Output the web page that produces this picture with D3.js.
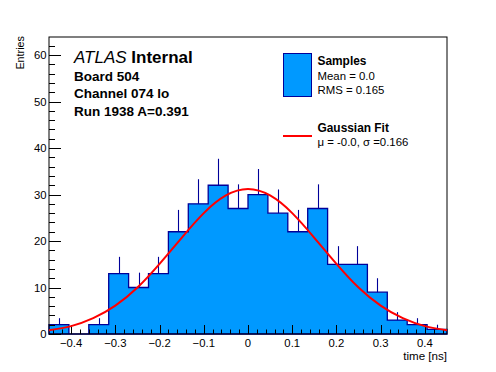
<!DOCTYPE html>
<html>
<head>
<meta charset="utf-8">
<script src="https://cdn.jsdelivr.net/npm/d3@7"></script>
<style>
  body { margin: 0; background: #fff; }
  text { font-family: "Liberation Sans", Arial, sans-serif; }
</style>
</head>
<body>
<svg id="chart" width="496" height="372"></svg>
<script>
// histogram: 20 bins over [-0.45, 0.45]
var binEdges = [-0.45, -0.405, -0.36, -0.315, -0.27, -0.225, -0.18, -0.135, -0.09, -0.045, 0,
                0.045, 0.09, 0.135, 0.18, 0.225, 0.27, 0.315, 0.36, 0.405, 0.45];
var counts = [2, 0, 2, 13, 10, 13, 22, 28, 32, 27, 30, 26, 22, 27, 15, 15, 9, 3, 2, 1];
var errors = [1.4, 0, 1.4, 3.6, 3.2, 3.6, 4.7, 5.3, 5.7, 5.2, 5.5, 5.1, 4.7, 5.2, 3.9, 3.9, 3.0, 1.7, 1.4, 1.0];

// gaussian fit curve
var fitX = [-0.45, -0.4, -0.35, -0.3, -0.25, -0.2, -0.15, -0.1, -0.05, 0,
            0.05, 0.1, 0.15, 0.2, 0.25, 0.3, 0.35, 0.4, 0.45];
var fitY = [0.8, 1.7, 3.4, 6.1, 10.0, 15.1, 20.7, 26.0, 29.8, 31.2,
            29.8, 26.0, 20.7, 15.1, 10.0, 6.1, 3.4, 1.7, 0.8];

var xTicks = [-0.4, -0.3, -0.2, -0.1, 0, 0.1, 0.2, 0.3, 0.4];
var yTicks = [0, 10, 20, 30, 40, 50, 60];

var infoLines = ['Board 504', 'Channel 074 lo', 'Run 1938 A=0.391'];

var fillCol = '#0099ff', lineCol = '#000099';

var frame = {l: 49, r: 447, t: 37, b: 334};
var svg = d3.select('#chart');

var x = d3.scaleLinear().domain([-0.45, 0.45]).range([frame.l, frame.r]);
var y = d3.scaleLinear().domain([0, 63.9]).range([frame.b, frame.t]);

var plot = svg.append('g');

// clip to frame
svg.append('clipPath').attr('id', 'clip')
  .append('rect').attr('x', frame.l).attr('y', frame.t)
  .attr('width', frame.r - frame.l).attr('height', frame.b - frame.t);

// staircase outline of the histogram
var pts = [[x(binEdges[0]), y(0)]];
counts.forEach(function(c, i){
  pts.push([x(binEdges[i]), y(c)]);
  pts.push([x(binEdges[i + 1]), y(c)]);
});
pts.push([x(binEdges[binEdges.length - 1]), y(0)]);

plot.append('path')
  .attr('d', d3.line()(pts) + 'Z')
  .attr('fill', fillCol)
  .attr('stroke', lineCol)
  .attr('stroke-width', 1.3);

// error bars (upper half, lower half hidden by the fill)
counts.forEach(function(c, i){
  if(c <= 0) return;
  var cx = Math.round(x((binEdges[i] + binEdges[i + 1]) / 2)) + 0.5;
  plot.append('line')
    .attr('x1', cx).attr('x2', cx)
    .attr('y1', y(c)).attr('y2', y(c + errors[i]))
    .attr('stroke', lineCol).attr('stroke-width', 1.1);
});

// frame
svg.append('rect')
  .attr('x', frame.l).attr('y', frame.t)
  .attr('width', frame.r - frame.l).attr('height', frame.b - frame.t)
  .attr('fill', 'none').attr('stroke', '#000').attr('stroke-width', 1);

// x axis ticks (inside)
var xMinor = d3.range(-22, 23).map(function(k){ return k * 0.02; })
  .filter(function(v){ return v > -0.45 && v < 0.45; });
var axg = svg.append('g').attr('stroke', '#000').attr('stroke-width', 1);
xMinor.forEach(function(v){
  var isMajor = Math.abs(Math.round(v * 10) - v * 10) < 1e-6;
  var px = Math.round(x(v)) + 0.5;
  axg.append('line').attr('x1', px).attr('x2', px)
    .attr('y1', frame.b).attr('y2', frame.b - (isMajor ? 9 : 4.5));
});
svg.append('g').selectAll('text').data(xTicks).enter().append('text')
  .attr('x', function(d){ return x(d); })
  .attr('y', 346.5)
  .attr('text-anchor', 'middle')
  .attr('font-size', 11.3)
  .text(function(d){ return d === 0 ? '0' : d3.format('.1f')(d).replace('-', '\u2212'); });

// y axis ticks
d3.range(0, 64, 2).forEach(function(v){
  var py = Math.round(y(v)) + 0.5;
  axg.append('line').attr('x1', frame.l).attr('x2', frame.l + (v % 10 === 0 ? 12 : 6))
    .attr('y1', py).attr('y2', py);
});
svg.append('g').selectAll('text').data(yTicks).enter().append('text')
  .attr('x', 46.5)
  .attr('y', function(d){ return y(d) + 4; })
  .attr('text-anchor', 'end')
  .attr('font-size', 11.3)
  .text(function(d){ return d; });

// axis titles
svg.append('text')
  .attr('transform', 'translate(23.5,' + (frame.t - 1) + ') rotate(-90)')
  .attr('text-anchor', 'end')
  .attr('font-size', 10.8)
  .text('Entries');
svg.append('text')
  .attr('x', frame.r).attr('y', 359.5)
  .attr('text-anchor', 'end')
  .attr('font-size', 11.6)
  .text('time [ns]');

// fit curve
svg.append('path')
  .datum(fitX.map(function(v, i){ return [v, fitY[i]]; }))
  .attr('clip-path', 'url(#clip)')
  .attr('d', d3.line()
    .x(function(d){ return x(d[0]); })
    .y(function(d){ return y(d[1]); })
    .curve(d3.curveNatural))
  .attr('fill', 'none')
  .attr('stroke', '#ff0000')
  .attr('stroke-width', 2);

// ATLAS label
var lab = svg.append('text').attr('x', 74).attr('y', 63).attr('font-size', 17);
lab.append('tspan').attr('font-style', 'italic').text('ATLAS');
lab.append('tspan').attr('font-weight', 'bold').text(' Internal');
svg.append('g').selectAll('text').data(infoLines).enter().append('text')
  .attr('x', 74)
  .attr('y', function(d, i){ return 81 + i * 17.4; })
  .attr('font-size', 13.5)
  .attr('font-weight', 'bold')
  .text(function(d){ return d; });

// legend
var lg = svg.append('g');
lg.append('rect').attr('x', 283.5).attr('y', 53.5).attr('width', 28).attr('height', 43)
  .attr('fill', fillCol).attr('stroke', lineCol).attr('stroke-width', 1);
lg.append('text').attr('x', 317.5).attr('y', 65).attr('font-size', 11.9)
  .attr('font-weight', 'bold').text('Samples');
lg.append('text').attr('x', 317.5).attr('y', 80).attr('font-size', 11.4).text('Mean = 0.0');
lg.append('text').attr('x', 317.5).attr('y', 94).attr('font-size', 11.4).text('RMS = 0.165');
lg.append('line').attr('x1', 283).attr('x2', 312).attr('y1', 136).attr('y2', 136)
  .attr('stroke', '#ff0000').attr('stroke-width', 2);
lg.append('text').attr('x', 317.5).attr('y', 132).attr('font-size', 11.9)
  .attr('font-weight', 'bold').text('Gaussian Fit');
lg.append('text').attr('x', 317.5).attr('y', 146).attr('font-size', 11.4)
  .text('\u03bc = -0.0, \u03c3 =0.166');
</script>
</body>
</html>
